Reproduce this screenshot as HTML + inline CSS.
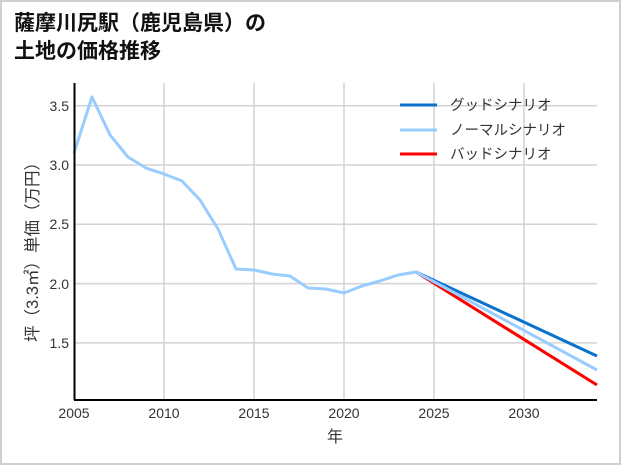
<!DOCTYPE html>
<html><head><meta charset="utf-8"><style>
html,body{margin:0;padding:0;background:#fff;}
svg{display:block;font-family:"Liberation Sans","Noto Sans CJK JP",sans-serif;}
</style></head><body>
<svg width="621" height="465" viewBox="0 0 621 465" xmlns="http://www.w3.org/2000/svg">
<rect x="1" y="1" width="619" height="463" fill="#fff" stroke="#d0d0d0" stroke-width="2"/>
<text x="14" y="30" font-size="21" font-weight="bold" fill="#111">薩摩川尻駅（鹿児島県）の</text>
<text x="14" y="58" font-size="21" font-weight="bold" fill="#111">土地の価格推移</text>
<g stroke="#d3d3d3" stroke-width="1.5">
<line x1="164" y1="83" x2="164" y2="400"/><line x1="254" y1="83" x2="254" y2="400"/>
<line x1="344" y1="83" x2="344" y2="400"/><line x1="434" y1="83" x2="434" y2="400"/>
<line x1="524" y1="83" x2="524" y2="400"/>
<line x1="74" y1="105.7" x2="597" y2="105.7"/><line x1="74" y1="165" x2="597" y2="165"/>
<line x1="74" y1="224.3" x2="597" y2="224.3"/><line x1="74" y1="283.6" x2="597" y2="283.6"/>
<line x1="74" y1="342.9" x2="597" y2="342.9"/>
</g>
<g fill="none" stroke-width="3" stroke-linejoin="round">
<polyline stroke="#0a72cf" points="416,272 597,356"/>
<polyline stroke="#ff0000" points="416,272 597,385"/>
<polyline stroke="#99ccff" points="74,153 92,97 110,135 128,157 146,168 164,174 182,181 200,200 218,229 236,269 254,270 272,274 290,276 308,288 326,289 344,293 362,286 380,281 398,275 416,272 597,370"/>
</g>
<line x1="74.5" y1="83" x2="74.5" y2="400" stroke="#000" stroke-width="2"/>
<line x1="74" y1="400" x2="597" y2="400" stroke="#000" stroke-width="2"/>
<g font-size="14" fill="#333" text-anchor="end">
<text x="69" y="111">3.5</text><text x="69" y="170">3.0</text><text x="69" y="229">2.5</text>
<text x="69" y="289">2.0</text><text x="69" y="348">1.5</text>
</g>
<g font-size="14" fill="#333" text-anchor="middle">
<text x="74" y="418">2005</text><text x="164" y="418">2010</text><text x="254" y="418">2015</text>
<text x="344" y="418">2020</text><text x="434" y="418">2025</text><text x="524" y="418">2030</text>
</g>
<text x="335" y="442" font-size="16" fill="#333" text-anchor="middle">年</text>
<text transform="translate(38,248) rotate(-90)" font-size="16.5" fill="#333" text-anchor="middle">坪（3.3㎡）単価（万円）</text>
<g stroke-width="3">
<line x1="400" y1="105" x2="437" y2="105" stroke="#0a72cf"/>
<line x1="400" y1="130" x2="437" y2="130" stroke="#99ccff"/>
<line x1="400" y1="154" x2="437" y2="154" stroke="#ff0000"/>
</g>
<g font-size="14.5" fill="#333">
<text x="450" y="110">グッドシナリオ</text>
<text x="450" y="135">ノーマルシナリオ</text>
<text x="450" y="159">バッドシナリオ</text>
</g>
</svg>
</body></html>
